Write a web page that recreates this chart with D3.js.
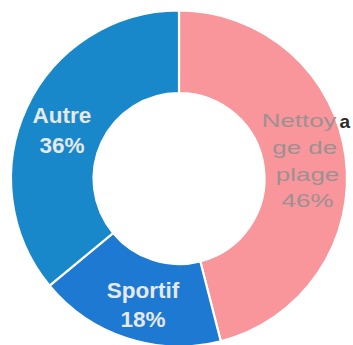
<!DOCTYPE html>
<html>
<head>
<meta charset="utf-8">
<script src="https://cdn.jsdelivr.net/npm/d3@7"></script>
<style>
  html, body { margin: 0; padding: 0; background: #ffffff; }
  svg { display: block; }
</style>
</head>
<body>
<svg id="chart" width="353" height="345"></svg>
<script>
// Activity categories and their shares (percent)
const categories = ["Nettoyage de plage", "Sportif", "Autre"];
const shares = [46, 18, 36];
const colors = ["#f8969b", "#1d79d2", "#1988ca"];

const svg = d3.select("#chart");
const cx = 179, cy = 178.5;
const outerR = 168, innerR = 85.5;

const pie = d3.pie().sort(null).value(d => d.value);
const arcs = pie(categories.map((c, i) => ({ name: c, value: shares[i], color: colors[i] })));
const arc = d3.arc().innerRadius(innerR).outerRadius(outerR);

const g = svg.append("g").attr("transform", `translate(${cx},${cy})`);

g.selectAll("path.slice")
  .data(arcs)
  .join("path")
  .attr("class", "slice")
  .attr("d", arc)
  .attr("fill", d => d.data.color)
  .attr("stroke", "#ffffff")
  .attr("stroke-width", 2.2);

// Labels for the two blue slices
const bold = "'Liberation Sans', Arial, sans-serif";
function twoLine(x, y1, y2, a, b) {
  const t = svg.append("text")
    .attr("font-family", bold)
    .attr("font-weight", "bold")
    .attr("font-size", 22.5)
    .attr("fill", "#e6e9ec")
    .attr("text-anchor", "middle");
  t.append("tspan").attr("x", x).attr("y", y1).text(a);
  t.append("tspan").attr("x", x).attr("y", y2).text(b);
}
twoLine(62, 123, 153, "Autre", shares[2] + "%");
twoLine(143, 298, 327, "Sportif", shares[1] + "%");

// Wrapped label for the pink slice, drawn wide
const wide = svg.append("g").attr("transform", "translate(304,0) scale(1.4,1)");
const lines = [["Nettoy", 127], ["ge de", 154], ["plage", 181], [shares[0] + "%", 207]];
lines.forEach(([s, y], i) => {
  wide.append("text")
    .attr("x", i === 0 ? -3.5 : i === 1 ? 0.5 : 2.5)
    .attr("y", y)
    .attr("font-family", bold)
    .attr("font-size", 18.5)
    .attr("fill", "#9d9092")
    .attr("text-anchor", "middle")
    .text(s);
});
svg.append("text")
  .attr("x", 339.5).attr("y", 128)
  .attr("font-family", bold)
  .attr("font-weight", "bold")
  .attr("font-size", 19)
  .attr("fill", "#2b2b2b")
  .text("a");
</script>
</body>
</html>
